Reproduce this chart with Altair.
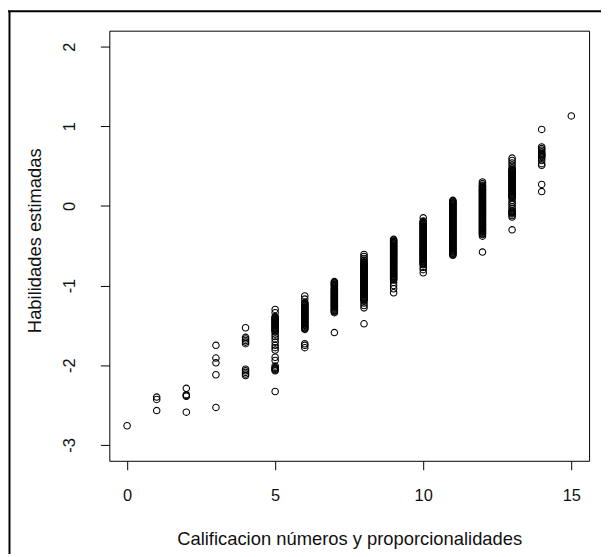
import altair as alt
import pandas as pd

# Calificación (x) and estimated ability values (y)
calificacion = list(range(16))

hab_0 = [-2.76]
hab_1 = [-2.40, -2.43, -2.57]
hab_2 = [-2.29, -2.37, -2.38, -2.39, -2.59]
hab_3 = [-1.75, -1.91, -1.97, -2.12, -2.53]
hab_4 = [-1.53, -1.65, -1.67, -1.69, -1.71, -1.73, -2.05, -2.07, -2.09, -2.11, -2.13]
hab_5 = [-1.30, -1.34,
         -1.39, -1.40, -1.41, -1.42, -1.43, -1.44, -1.45, -1.46, -1.47, -1.48, -1.49,
         -1.50, -1.51, -1.52, -1.53, -1.54, -1.55, -1.56, -1.57, -1.58,
         -1.61, -1.64, -1.67, -1.71, -1.75, -1.78, -1.81, -1.90, -1.94,
         -2.01, -2.03, -2.04, -2.05, -2.06, -2.07, -2.33]
hab_6 = [-1.13, -1.17,
         -1.21, -1.22, -1.23, -1.24, -1.25, -1.26, -1.27, -1.28, -1.29, -1.30, -1.31,
         -1.32, -1.33, -1.34, -1.35, -1.36, -1.37, -1.38, -1.39, -1.40, -1.41, -1.42,
         -1.43, -1.44, -1.45, -1.46, -1.47, -1.48, -1.49, -1.50, -1.51, -1.52, -1.53,
         -1.54, -1.55, -1.73, -1.75, -1.78]
hab_7 = [-0.95, -0.96, -0.97, -0.98, -0.99, -1.00, -1.01, -1.03, -1.04, -1.05, -1.06,
         -1.07, -1.08, -1.09, -1.10, -1.11, -1.12, -1.13, -1.14, -1.15, -1.16, -1.17,
         -1.18, -1.19, -1.20, -1.21, -1.22, -1.23, -1.24, -1.25, -1.26, -1.27, -1.28,
         -1.29, -1.30, -1.31, -1.32, -1.33, -1.34, -1.59]
hab_8 = [-0.61, -0.635, -0.66, -0.68, -0.70,
         -0.71, -0.72, -0.73, -0.74, -0.75, -0.76, -0.77, -0.78, -0.79, -0.80, -0.81,
         -0.82, -0.83, -0.84, -0.85, -0.86, -0.87, -0.88, -0.89, -0.90, -0.91, -0.92,
         -0.93, -0.94, -0.95, -0.96, -0.97, -0.98, -0.99, -1.00, -1.01, -1.02, -1.03,
         -1.04, -1.05, -1.06, -1.07, -1.08, -1.09, -1.10, -1.11, -1.12, -1.13, -1.14,
         -1.15, -1.16, -1.17, -1.18, -1.19, -1.22, -1.25, -1.28, -1.48]
hab_9 = [-0.42, -0.43, -0.44, -0.45, -0.46, -0.47, -0.48, -0.49, -0.50, -0.51, -0.52,
         -0.53, -0.54, -0.55, -0.56, -0.57, -0.58, -0.59, -0.60, -0.61, -0.62, -0.63,
         -0.64, -0.65, -0.66, -0.67, -0.68, -0.69, -0.70, -0.71, -0.72, -0.73, -0.74,
         -0.75, -0.76, -0.77, -0.78, -0.79, -0.80, -0.81, -0.82, -0.83, -0.84, -0.85,
         -0.86, -0.87, -0.88, -0.89, -0.90, -0.91, -0.92, -0.93,
         -0.96, -1.00, -1.04, -1.09]
hab_10 = [-0.15,
          -0.19, -0.20, -0.21, -0.22, -0.23, -0.24, -0.25, -0.26, -0.27, -0.28, -0.29,
          -0.30, -0.31, -0.32, -0.33, -0.34, -0.35, -0.36, -0.37, -0.38, -0.39, -0.40,
          -0.41, -0.42, -0.43, -0.44, -0.45, -0.46, -0.47, -0.48, -0.49, -0.50, -0.51,
          -0.52, -0.53, -0.54, -0.55, -0.56, -0.57, -0.58, -0.59, -0.60, -0.61, -0.62,
          -0.63, -0.64, -0.65, -0.66, -0.67, -0.68, -0.69, -0.70, -0.71, -0.72, -0.73,
          -0.74, -0.77, -0.80, -0.84]
hab_11 = [0.07, 0.06, 0.05, 0.04, 0.03, 0.02, 0.01, 0.00, -0.01, -0.02, -0.03, -0.04,
          -0.05, -0.06, -0.07, -0.08, -0.09, -0.10, -0.11, -0.12, -0.13, -0.14, -0.15,
          -0.16, -0.17, -0.18, -0.19, -0.20, -0.21, -0.22, -0.23, -0.24, -0.25, -0.26,
          -0.27, -0.28, -0.29, -0.30, -0.31, -0.32, -0.33, -0.34, -0.35, -0.36, -0.37,
          -0.38, -0.39, -0.40, -0.41, -0.42, -0.43, -0.44, -0.45, -0.46, -0.47, -0.48,
          -0.49, -0.50, -0.51, -0.52, -0.53, -0.54, -0.55, -0.56, -0.57, -0.58, -0.59,
          -0.60, -0.61, -0.62]
hab_12 = [0.30, 0.28,
          0.26, 0.25, 0.24, 0.23, 0.22, 0.21, 0.20, 0.19, 0.18, 0.17, 0.16, 0.15, 0.14,
          0.13, 0.12, 0.11, 0.10, 0.09, 0.08, 0.07, 0.06, 0.05, 0.04, 0.03, 0.02, 0.01,
          0.00, -0.01, -0.02, -0.03, -0.04, -0.05, -0.06, -0.07, -0.08, -0.09, -0.10,
          -0.11, -0.12, -0.13, -0.14, -0.15, -0.16, -0.17, -0.18, -0.19, -0.20, -0.21,
          -0.22, -0.23, -0.24, -0.25, -0.26, -0.27, -0.28, -0.29, -0.30, -0.31, -0.32,
          -0.33, -0.34, -0.35, -0.36, -0.38, -0.58]
hab_13 = [0.60, 0.57, 0.54, 0.51, 0.48,
          0.46, 0.45, 0.44, 0.43, 0.42, 0.41, 0.40, 0.39, 0.38, 0.37, 0.36, 0.35, 0.34,
          0.33, 0.32, 0.31, 0.30, 0.29, 0.28, 0.27, 0.26, 0.25, 0.24, 0.23, 0.22, 0.21,
          0.20, 0.19, 0.18, 0.17, 0.16, 0.15, 0.14, 0.13, 0.12, 0.11, 0.10,
          0.07, 0.04, 0.02, -0.01, -0.03,
          -0.06, -0.07, -0.08, -0.09, -0.10, -0.12, -0.14, -0.30]
hab_14 = [0.96, 0.74, 0.72, 0.70, 0.68, 0.66, 0.65, 0.64, 0.63, 0.62, 0.60, 0.57, 0.53,
          0.51, 0.27, 0.18]
hab_15 = [1.13]

x_ticks = [0, 5, 10, 15]
y_ticks = [-3, -2, -1, 0, 1, 2]

columns = [hab_0, hab_1, hab_2, hab_3, hab_4, hab_5, hab_6, hab_7, hab_8, hab_9,
           hab_10, hab_11, hab_12, hab_13, hab_14, hab_15]
rows = [{"cal": c, "hab": v} for c, col in zip(calificacion, columns) for v in col]
df = pd.DataFrame(rows)

FONT = "Liberation Sans"
TXT = "#111111"

points = alt.Chart(df).mark_point(
    shape="circle", filled=False, color="black", size=42, strokeWidth=1.1, opacity=1
).encode(
    x=alt.X("cal:Q",
            scale=alt.Scale(domain=[-0.6, 15.6], nice=False, zero=False),
            axis=alt.Axis(values=x_ticks, title="Calificacion números y proporcionalidades",
                          grid=False, domain=False, tickSize=9, tickColor="black",
                          labelPadding=26, labelBaseline="middle", labelFont=FONT,
                          labelFontSize=16.5, labelColor=TXT, titleFont=FONT,
                          titleFontSize=18.5, titleFontWeight="normal", titleColor=TXT,
                          titleY=78, titleBaseline="middle")),
    y=alt.Y("hab:Q",
            scale=alt.Scale(domain=[-3.2, 2.2], nice=False, zero=False),
            axis=alt.Axis(values=y_ticks, title="Habilidades estimadas",
                          labelExpr="'' + datum.value",
                          grid=False, domain=False, tickSize=9, tickColor="black",
                          labelAngle=270, labelAlign="center", labelBaseline="middle",
                          labelPadding=31, labelFont=FONT, labelFontSize=16.5,
                          labelColor=TXT, titleFont=FONT, titleFontSize=18.5,
                          titleFontWeight="normal", titleColor=TXT, titleAngle=270,
                          titleX=-75, titleY=211, titleAlign="center",
                          titleBaseline="middle")),
)

frame_src = alt.Data(values=[{"k": 0}])
left_edge = alt.Chart(frame_src).mark_rule(color="black", strokeWidth=2).encode(
    x=alt.value(-100.5), y=alt.value(-20), y2=alt.value(540)
)
top_edge = alt.Chart(frame_src).mark_rule(color="black", strokeWidth=2).encode(
    x=alt.value(-102), x2=alt.value(520), y=alt.value(-19.5)
)

chart = alt.layer(points, left_edge, top_edge).properties(
    width=483, height=433,
    padding={"left": 102, "top": 21, "right": 12, "bottom": 92},
    autosize=alt.AutoSizeParams(type="none"),
).configure_view(stroke="black", strokeWidth=1)

chart.save("out.html", embed_options={"renderer": "svg", "actions": False})
